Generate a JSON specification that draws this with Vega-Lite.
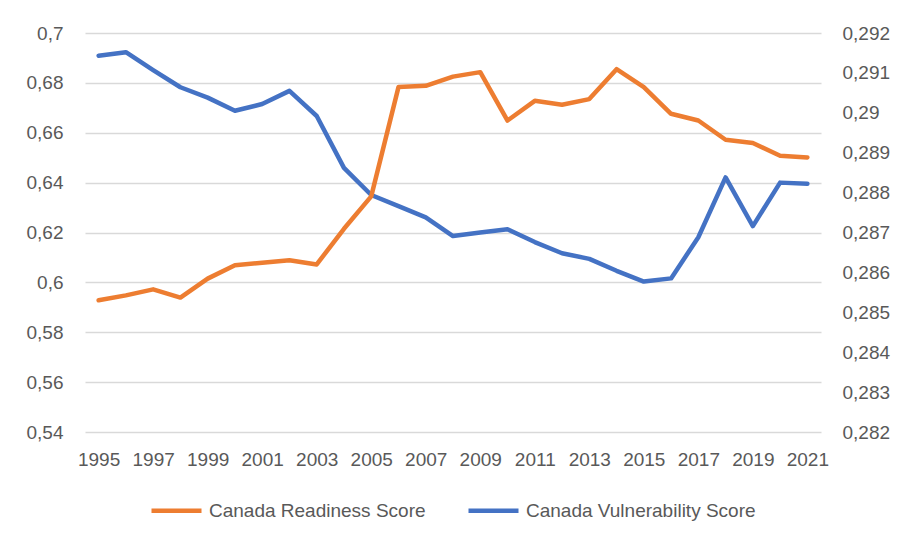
{
  "$schema": "https://vega.github.io/schema/vega-lite/v6.json",
  "autosize": {"type": "none"},
  "width": 736,
  "height": 399,
  "padding": {"left": 85, "top": 33, "right": 79, "bottom": 114},
  "background": "white",
  "config": {
    "font": "Liberation Sans",
    "view": {"stroke": null},
    "axis": {"labelFont": "Liberation Sans", "labelColor": "#595959", "labelFontSize": 19, "domain": false, "ticks": false, "title": null}
  },
  "data": {
    "values": [
      {"year": "1995", "readiness": 0.5928, "vulnerability": 0.29143},
      {"year": "1996", "readiness": 0.5948, "vulnerability": 0.29152},
      {"year": "1997", "readiness": 0.5972, "vulnerability": 0.29107},
      {"year": "1998", "readiness": 0.5939, "vulnerability": 0.29064},
      {"year": "1999", "readiness": 0.6015, "vulnerability": 0.29038},
      {"year": "2000", "readiness": 0.6069, "vulnerability": 0.29005},
      {"year": "2001", "readiness": 0.6079, "vulnerability": 0.29022},
      {"year": "2002", "readiness": 0.6089, "vulnerability": 0.29055},
      {"year": "2003", "readiness": 0.6072, "vulnerability": 0.28992},
      {"year": "2004", "readiness": 0.6215, "vulnerability": 0.28862},
      {"year": "2005", "readiness": 0.6345, "vulnerability": 0.28794},
      {"year": "2006", "readiness": 0.6783, "vulnerability": 0.28766},
      {"year": "2007", "readiness": 0.6788, "vulnerability": 0.28738},
      {"year": "2008", "readiness": 0.6825, "vulnerability": 0.28691},
      {"year": "2009", "readiness": 0.6843, "vulnerability": 0.287},
      {"year": "2010", "readiness": 0.6649, "vulnerability": 0.28708},
      {"year": "2011", "readiness": 0.6728, "vulnerability": 0.28676},
      {"year": "2012", "readiness": 0.6712, "vulnerability": 0.28648},
      {"year": "2013", "readiness": 0.6735, "vulnerability": 0.28634},
      {"year": "2014", "readiness": 0.6855, "vulnerability": 0.28604},
      {"year": "2015", "readiness": 0.6783, "vulnerability": 0.28577},
      {"year": "2016", "readiness": 0.6676, "vulnerability": 0.28585},
      {"year": "2017", "readiness": 0.6649, "vulnerability": 0.28688},
      {"year": "2018", "readiness": 0.6572, "vulnerability": 0.28838},
      {"year": "2019", "readiness": 0.6559, "vulnerability": 0.28716},
      {"year": "2020", "readiness": 0.6508, "vulnerability": 0.28825},
      {"year": "2021", "readiness": 0.6501, "vulnerability": 0.28822}
    ]
  },
  "encoding": {
    "x": {
      "field": "year",
      "type": "ordinal",
      "scale": {"type": "point", "padding": 0.5},
      "axis": {"labelAngle": 0, "labelPadding": 18, "grid": false, "labelExpr": "toNumber(datum.value) % 2 == 1 ? datum.value : ''"}
    }
  },
  "layer": [
    {
      "mark": {"type": "line", "strokeWidth": 4.5, "strokeCap": "round", "strokeJoin": "round"},
      "encoding": {
        "y": {
          "field": "vulnerability",
          "type": "quantitative",
          "scale": {"domain": [0.282, 0.292], "zero": false, "nice": false},
          "axis": {"orient": "right", "grid": false, "tickCount": 10, "format": ".3~f", "labelExpr": "replace(datum.label, '.', ',')", "labelPadding": 21}
        },
        "color": {"datum": "Canada Vulnerability Score"}
      }
    },
    {
      "mark": {"type": "line", "strokeWidth": 4.5, "strokeCap": "round", "strokeJoin": "round"},
      "encoding": {
        "y": {
          "field": "readiness",
          "type": "quantitative",
          "scale": {"domain": [0.54, 0.7], "zero": false, "nice": false},
          "axis": {"orient": "left", "grid": true, "gridColor": "#d9d9d9", "gridWidth": 1.5, "tickCount": 8, "format": ".2~f", "labelExpr": "replace(datum.label, '.', ',')", "labelPadding": 22}
        },
        "color": {
          "datum": "Canada Readiness Score",
          "scale": {"domain": ["Canada Readiness Score", "Canada Vulnerability Score"], "range": ["#ED7D31", "#4472C4"]},
          "legend": {
            "title": null,
            "orient": "none",
            "legendX": 64,
            "legendY": 450,
            "direction": "horizontal",
            "symbolType": "stroke",
            "symbolSize": 2500,
            "symbolStrokeWidth": 4.5,
            "labelFont": "Liberation Sans",
            "labelFontSize": 19,
            "labelColor": "#595959",
            "labelOffset": 5,
            "columnPadding": 33,
            "labelLimit": 400
          }
        }
      }
    }
  ],
  "resolve": {"scale": {"y": "independent"}}
}
